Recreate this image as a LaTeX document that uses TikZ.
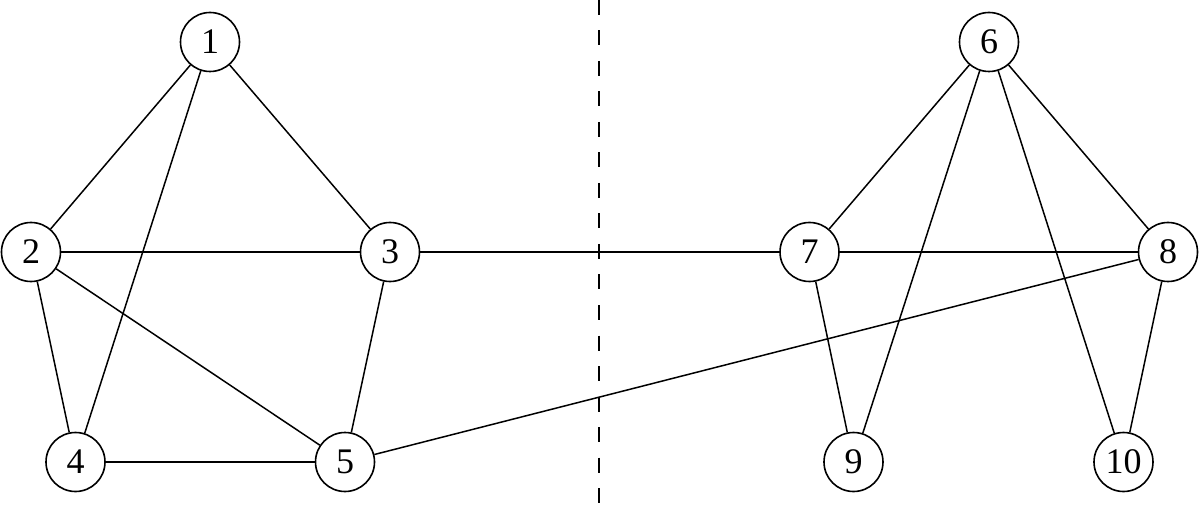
\documentclass[tikz,border=0pt]{standalone}
\usepackage{fontspec}
\setmainfont{Liberation Serif}
\begin{document}
\begin{tikzpicture}[x=1pt,y=-1pt,
  vtx/.style={circle,draw,line width=1.6pt,minimum size=59pt,inner sep=0pt,font=\fontsize{36}{36}\selectfont},
  edge/.style={line width=1.5pt},
  sep/.style={line width=1.5pt,dash pattern=on 15pt off 15.5pt}]
\useasboundingbox (0,0) rectangle (1200,505);
\node[vtx] (n1) at (210,42) {1};
\node[vtx] (n2) at (31,252) {2};
\node[vtx] (n3) at (390,252) {3};
\node[vtx] (n4) at (75.5,462) {4};
\node[vtx] (n5) at (345,462) {5};
\node[vtx] (n6) at (989,42) {6};
\node[vtx] (n7) at (809.5,252) {7};
\node[vtx] (n8) at (1168,252) {8};
\node[vtx] (n9) at (853.5,462) {9};
\node[vtx] (n10) at (1123.5,462) {10};
\coordinate (st) at (599,0);
\coordinate (sb) at (599,505);
\draw[sep] (st) -- (sb);
\draw[edge] (n1) -- (n2);
\draw[edge] (n1) -- (n3);
\draw[edge] (n1) -- (n4);
\draw[edge] (n2) -- (n3);
\draw[edge] (n2) -- (n4);
\draw[edge] (n2) -- (n5);
\draw[edge] (n3) -- (n5);
\draw[edge] (n4) -- (n5);
\draw[edge] (n3) -- (n7);
\draw[edge] (n5) -- (n8);
\draw[edge] (n6) -- (n7);
\draw[edge] (n6) -- (n8);
\draw[edge] (n6) -- (n9);
\draw[edge] (n6) -- (n10);
\draw[edge] (n7) -- (n8);
\draw[edge] (n7) -- (n9);
\draw[edge] (n8) -- (n10);
\end{tikzpicture}
\end{document}
